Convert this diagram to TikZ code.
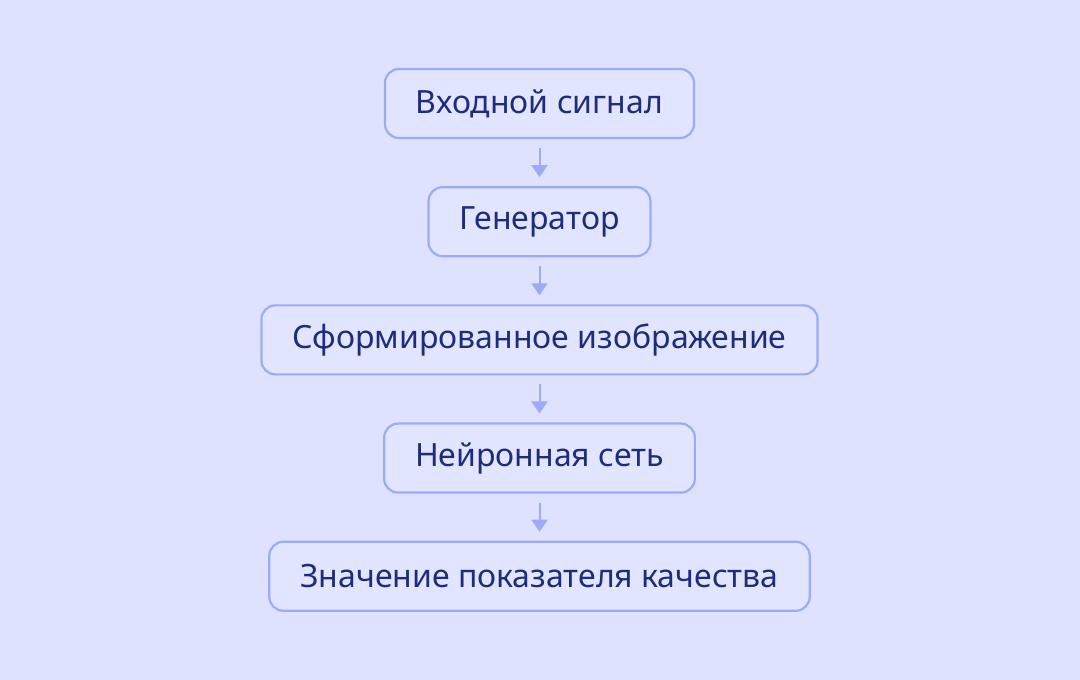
\documentclass[tikz,border=0pt]{standalone}
\usepackage{fontspec}
\setmainfont{Noto Sans}
\usepackage{tikz}
\usetikzlibrary{positioning, arrows.meta}

\definecolor{bgblue}{HTML}{DEE2FE}
\definecolor{boxfill}{HTML}{E2E5FF}
\definecolor{boxline}{HTML}{9DABF7}
\definecolor{textblue}{HTML}{1F2B7B}

\begin{document}
\begin{tikzpicture}[
    x=1pt, y=1pt,
    node distance=47pt,
    stage/.style={rectangle, draw=boxline, line width=2.2pt, fill=boxfill, rounded corners=14pt, minimum height=69pt, inner xsep=31pt, text=textblue, font=\fontsize{32}{38}\selectfont},
    arrow/.style={-{Triangle[width=16pt, length=12pt]}, draw=boxline, line width=2pt, shorten <=9pt, shorten >=9pt}
]

% Background
\fill[bgblue] (0,0) rectangle (1080,680);

% Nodes
\node[stage] (input) at (539.5,576.5) {Входной сигнал};
\node[stage, below=of input] (gen) {Генератор};
\node[stage, below=of gen] (image) {Сформированное изображение};
\node[stage, below=of image] (net) {Нейронная сеть};
\node[stage, below=of net] (score) {Значение показателя качества};

% Connections
\draw[arrow] (input) -- (gen);
\draw[arrow] (gen) -- (image);
\draw[arrow] (image) -- (net);
\draw[arrow] (net) -- (score);

\end{tikzpicture}
\end{document}
